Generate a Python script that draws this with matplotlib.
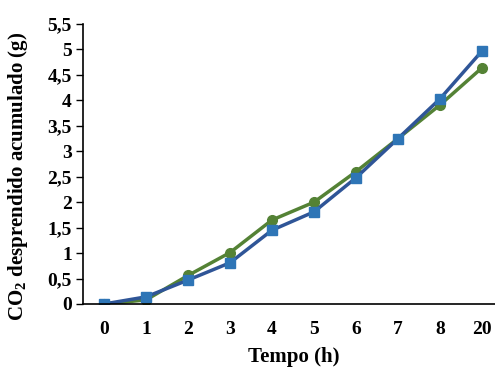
import matplotlib
matplotlib.use("Agg")
import matplotlib.pyplot as plt

# ====== Data ======
tempo = ["0", "1", "2", "3", "4", "5", "6", "7", "8", "20"]
serie_verde = [0.0, 0.08, 0.56, 1.01, 1.65, 2.0, 2.6, 3.25, 3.91, 4.64]
serie_azul = [0.0, 0.14, 0.47, 0.81, 1.45, 1.81, 2.48, 3.25, 4.03, 4.97]
yticks = [0, 0.5, 1, 1.5, 2, 2.5, 3, 3.5, 4, 4.5, 5, 5.5]

plt.rcParams['font.family'] = ['Liberation Serif', 'DejaVu Serif']
plt.rcParams['font.weight'] = 'bold'
plt.rcParams['mathtext.fontset'] = 'custom'
plt.rcParams['mathtext.rm'] = 'Liberation Serif:bold'

fig = plt.figure(figsize=(4.95, 3.72), dpi=100)
ax = fig.add_axes([83 / 495, 1 - 304 / 372, 420 / 495, 280 / 372])

x = list(range(len(tempo)))
ax.plot(x, serie_verde, color='#548235', lw=2.5, marker='o', ms=7,
        mfc='#548235', mec='#548235')
ax.plot(x, serie_azul, color='#2F5597', lw=2.5, marker='s', ms=7,
        mfc='#2E75B6', mec='#2E75B6')

ax.set_xlim(-0.5, len(tempo) - 0.5)
ax.set_ylim(0, 5.5)
ax.set_xticks(x)
ax.set_xticklabels(tempo)
ax.set_yticks(yticks)
ax.set_yticklabels([f"{v:g}".replace('.', ',') for v in yticks])

for s in ['top', 'right']:
    ax.spines[s].set_visible(False)
ax.spines['left'].set_linewidth(1.2)
ax.spines['bottom'].set_linewidth(1.2)
ax.tick_params(axis='x', length=0, pad=12, labelsize=14)
ax.tick_params(axis='y', length=5, width=1, direction='out', labelsize=14, pad=3)

ax.set_xlabel("Tempo (h)", fontsize=15, fontweight='bold')
ax.set_ylabel(r"CO$_2$ desprendido acumulado (g)", fontsize=15, fontweight='bold')
ax.xaxis.set_label_coords((294 - 83) / 420, -0.155)
ax.yaxis.set_label_coords(-(83 - 30) / 420, (304 - 176) / 280)

fig.savefig("out.png", dpi=100)
